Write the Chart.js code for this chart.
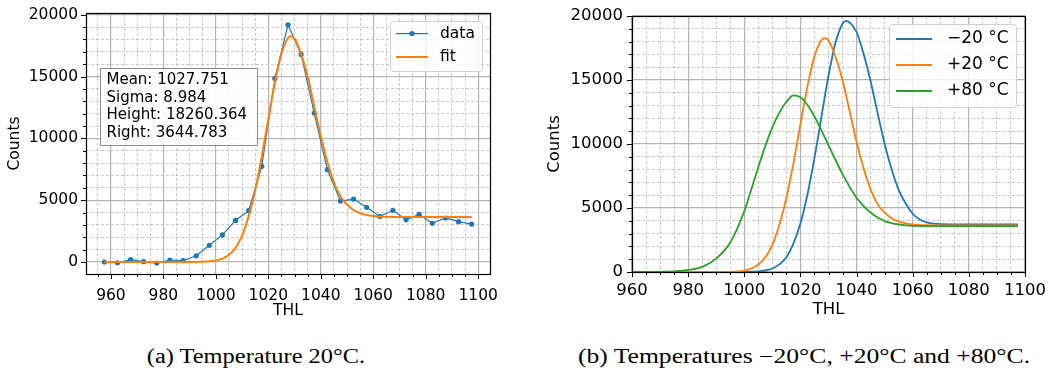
<!DOCTYPE html>
<html>
<head>
<meta charset="utf-8">
<script src="https://cdn.jsdelivr.net/npm/chart.js@4.4.1/dist/chart.umd.min.js"></script>
<style>
  body { margin: 0; background: #fff; width: 1051px; height: 371px; position: relative; overflow: hidden; }
  .panel { position: absolute; top: 0; }
  .panel canvas { display: block; }
  .caption {
    position: absolute; top: 346px; line-height: 20px;
    font-family: 'Liberation Serif', 'Times New Roman', serif; font-size: 20px;
    white-space: nowrap; color: #000;
  }
</style>
</head>
<body>
<div class="panel" style="left:0"><canvas id="fitChart" width="520" height="320"></canvas></div>
<div class="panel" style="left:530px"><canvas id="tempChart" width="521" height="320"></canvas></div>
<div class="caption" style="left:256px; transform: translateX(-50%) scaleX(1.22)">(a) Temperature 20°C.</div>
<div class="caption" style="left:804px; transform: translateX(-50%) scaleX(1.28)">(b) Temperatures −20°C, +20°C and +80°C.</div>

<script>
// measured points at 20 °C (THL, counts)
const thlData = [957.5, 962.5, 967.5, 972.5, 977.5, 982.5, 987.5, 992.5, 997.5, 1002.5,
    1007.5, 1012.5, 1017.5, 1022.5, 1027.5, 1032.5, 1037.5, 1042.5, 1047.5, 1052.5,
    1057.5, 1062.5, 1067.5, 1072.5, 1077.5, 1082.5, 1087.5, 1092.5, 1097.5];
const countsData = [0, -60, 190, 30, -90, 160, 110, 500, 1350, 2190,
    3360, 4150, 7740, 14850, 19190, 16790, 12050, 7470, 4930, 5090,
    4420, 3690, 4180, 3420, 3850, 3130, 3560, 3260, 3070];

// fitted curves on a common THL grid
const thlFine = [957.5, 965, 970, 975, 980, 985, 990, 995, 1000, 1002.5,
    1005, 1007.5, 1010, 1012.5, 1015, 1017.5, 1020, 1022.5, 1025, 1027.5,
    1028.75, 1030, 1032.5, 1035, 1036.25, 1037.5, 1040, 1042.5, 1045, 1047.5,
    1050, 1052.5, 1055, 1057.5, 1060, 1062.5, 1065, 1067.5, 1070, 1080,
    1090, 1097.5];
const fitCounts = [0, 0, 0, 0, 0, 0, 2, 17, 115, 270,
    580, 1150, 2140, 3700, 5800, 8510, 11550, 14500, 16850, 18120,
    18260, 18080, 16800, 14980, 13820, 12590, 10180, 8100, 6450, 5300,
    4650, 4200, 3950, 3800, 3720, 3670, 3655, 3648, 3645, 3645,
    3645, 3645];
const countsMinus20 = [0, 0, 0, 0, 0, 0, 0, 0, 6, 20,
    46, 117, 275, 594, 1150, 2210, 3800, 6050, 8910, 12150,
    13790, 15340, 17930, 19400, 19620, 19500, 18750, 17050, 14900, 12400,
    10000, 8000, 6420, 5350, 4550, 4100, 3880, 3780, 3740, 3715,
    3710, 3710];
const countsPlus20 = fitCounts;
const countsPlus80 = [0, 5, 15, 50, 160, 400, 1050, 2300, 4750, 6450,
    8200, 9850, 11300, 12450, 13300, 13800, 13650, 13050, 12150, 11050,
    10480, 9900, 8750, 7650, 7150, 6650, 5800, 5150, 4650, 4250,
    3980, 3810, 3710, 3650, 3610, 3595, 3585, 3580, 3580, 3580,
    3580, 3580];

const fitStats = ['Mean: 1027.751', 'Sigma: 8.984', 'Height: 18260.364', 'Right: 3644.783'];
const tempLabels = ['\u221220 \u00b0C', '+20 \u00b0C', '+80 \u00b0C'];

// tick values (labels only on the major ones)
const thlMajor = [960, 980, 1000, 1020, 1040, 1060, 1080, 1100];
const countsMajor = [0, 5000, 10000, 15000, 20000];

const FONT = 'DejaVu Sans';
const MAJOR_GRID = '#b4b4b4';
const MINOR_GRID = '#bcbcbc';
const C_BLUE = '#1f77b4', C_ORANGE = '#ff7f0e', C_GREEN = '#2ca02c';

function minorTicks(from, to, step) {
    const out = [];
    for (let v = from; v <= to + 1e-9; v += step) out.push(v);
    return out;
}

function isMajor(value, majors) {
    return majors.some(m => Math.abs(m - value) < 1e-6);
}

function points(xs, ys) {
    return xs.map((x, i) => ({ x: x, y: ys[i] }));
}

// frame round the plot and outward tick marks, long for major, short for minor
const frameAndTicks = {
    id: 'frameAndTicks',
    afterDatasetsDraw(chart) {
        const ctx = chart.ctx;
        const a = chart.chartArea;
        const xs = chart.scales.x, ys = chart.scales.y;
        ctx.save();
        ctx.strokeStyle = '#000';
        ctx.lineWidth = 1;
        xs.ticks.forEach(t => {
            const px = Math.round(xs.getPixelForValue(t.value)) + 0.5;
            const len = isMajor(t.value, thlMajor) ? 5 : 3;
            ctx.beginPath();
            ctx.moveTo(px, Math.round(a.bottom));
            ctx.lineTo(px, Math.round(a.bottom) + len);
            ctx.stroke();
        });
        ys.ticks.forEach(t => {
            const py = Math.round(ys.getPixelForValue(t.value)) + 0.5;
            const len = isMajor(t.value, countsMajor) ? 5 : 3;
            ctx.beginPath();
            ctx.moveTo(Math.round(a.left), py);
            ctx.lineTo(Math.round(a.left) - len, py);
            ctx.stroke();
        });
        ctx.lineWidth = 1.2;
        ctx.strokeRect(Math.round(a.left) + 0.5, Math.round(a.top) + 0.5,
            Math.round(a.right) - Math.round(a.left), Math.round(a.bottom) - Math.round(a.top));
        ctx.restore();
    }
};

// matplotlib style legend in the upper right corner of the axes
const boxLegend = {
    id: 'boxLegend',
    afterDraw(chart, args, o) {
        const ctx = chart.ctx;
        const a = chart.chartArea;
        const x = a.right - o.padRight - o.width;
        const y = a.top + o.padTop;
        ctx.save();
        ctx.fillStyle = 'rgba(255,255,255,0.8)';
        ctx.strokeStyle = '#d0d0d0';
        ctx.lineWidth = 1;
        ctx.beginPath();
        ctx.roundRect(x + 0.5, y + 0.5, o.width, o.height, 3);
        ctx.fill();
        ctx.stroke();
        chart.data.datasets.forEach((ds, i) => {
            const cy = y + o.first + i * o.step;
            ctx.strokeStyle = ds.borderColor;
            ctx.lineWidth = ds.borderWidth;
            ctx.beginPath();
            ctx.moveTo(x + o.lineX, cy);
            ctx.lineTo(x + o.lineX + o.lineLen, cy);
            ctx.stroke();
            if (ds.pointRadius > 0) {
                ctx.fillStyle = ds.borderColor;
                ctx.beginPath();
                ctx.arc(x + o.lineX + o.lineLen / 2, cy, ds.pointRadius, 0, Math.PI * 2);
                ctx.fill();
            }
            ctx.fillStyle = '#000';
            ctx.font = o.fontSize + 'px "' + FONT + '"';
            ctx.textBaseline = 'middle';
            ctx.fillText(ds.label, x + o.textX, cy);
        });
        ctx.restore();
    }
};

// text box with the fit parameters
const statsBox = {
    id: 'statsBox',
    afterDraw(chart, args, o) {
        const ctx = chart.ctx;
        const a = chart.chartArea;
        const x = Math.round(a.left + o.dx) + 0.5;
        const y = Math.round(a.top + o.dy) + 0.5;
        ctx.save();
        ctx.fillStyle = 'rgba(255,255,255,0.9)';
        ctx.strokeStyle = '#8c8c8c';
        ctx.lineWidth = 1;
        ctx.fillRect(x, y, o.width, o.height);
        ctx.strokeRect(x, y, o.width, o.height);
        ctx.fillStyle = '#000';
        ctx.font = o.fontSize + 'px "' + FONT + '"';
        ctx.textBaseline = 'middle';
        o.lines.forEach((line, i) => ctx.fillText(line, x + o.textX, y + o.first + i * o.step));
        ctx.restore();
    }
};

function buildScales(cfg) {
    const tickFont = { family: FONT, size: cfg.fontSize };
    return {
        x: {
            type: 'linear', min: cfg.xMin, max: cfg.xMax,
            afterBuildTicks: s => { s.ticks = cfg.xTicks.map(v => ({ value: v })); },
            afterFit: s => { s.height = cfg.xHeight; s.paddingLeft = 0; s.paddingRight = 0; },
            ticks: {
                autoSkip: false, maxRotation: 0, padding: cfg.xPad, color: '#000', font: tickFont,
                callback: v => isMajor(v, thlMajor) ? String(v) : ''
            },
            grid: {
                drawTicks: false,
                color: c => c.tick && isMajor(c.tick.value, thlMajor) ? MAJOR_GRID : MINOR_GRID,
                lineWidth: c => c.tick && isMajor(c.tick.value, thlMajor) ? 1.2 : 0.8
            },
            border: {
                display: false,
                dash: c => c.tick && !isMajor(c.tick.value, thlMajor) ? [3, 2] : []
            },
            title: {
                display: true, text: 'THL', color: '#000', font: tickFont,
                padding: { top: 0, bottom: cfg.xTitlePad }
            }
        },
        y: {
            type: 'linear', min: cfg.yMin, max: cfg.yMax,
            afterBuildTicks: s => { s.ticks = cfg.yTicks.map(v => ({ value: v })); },
            afterFit: s => { s.width = cfg.yWidth; s.paddingTop = 0; s.paddingBottom = 0; },
            ticks: {
                autoSkip: false, padding: cfg.yPad, color: '#000', font: tickFont,
                callback: v => isMajor(v, countsMajor) ? String(v) : ''
            },
            grid: {
                drawTicks: false,
                color: c => c.tick && isMajor(c.tick.value, countsMajor) ? MAJOR_GRID : MINOR_GRID,
                lineWidth: c => c.tick && isMajor(c.tick.value, countsMajor) ? 1.2 : 0.8
            },
            border: {
                display: false,
                dash: c => c.tick && !isMajor(c.tick.value, countsMajor) ? [3, 2] : []
            },
            title: {
                display: true, text: 'Counts', color: '#000', font: tickFont,
                padding: { top: cfg.yTitlePad, bottom: 0 }
            }
        }
    };
}

function renderFitChart() {
    const ctx = document.getElementById('fitChart').getContext('2d');
    return new Chart(ctx, {
        type: 'line',
        data: {
            datasets: [{
                label: 'data',
                data: points(thlData, countsData),
                borderColor: C_BLUE,
                backgroundColor: C_BLUE,
                borderWidth: 1.2,
                pointRadius: 2.6,
                pointBorderWidth: 0,
                order: 1
            }, {
                label: 'fit',
                data: points(thlFine, fitCounts),
                borderColor: C_ORANGE,
                borderWidth: 2,
                pointRadius: 0,
                cubicInterpolationMode: 'monotone',
                order: 0
            }]
        },
        options: {
            responsive: false,
            animation: false,
            events: [],
            layout: { autoPadding: false, padding: { left: 0, right: 30, top: 13, bottom: 0 } },
            plugins: {
                legend: { display: false },
                tooltip: { enabled: false },
                boxLegend: { width: 92, height: 50, padRight: 8, padTop: 8, first: 12.6, step: 23.4,
                    lineX: 6, lineLen: 32, textX: 50, fontSize: 15.5 },
                statsBox: { lines: fitStats, dx: 14, dy: 55, width: 157, height: 77,
                    textX: 6, first: 11.7, step: 17.5, fontSize: 15 }
            },
            scales: buildScales({
                xMin: 950.5, xMax: 1104.5, yMin: -970, yMax: 20140,
                xTicks: minorTicks(955, 1100, 5), yTicks: minorTicks(0, 20000, 1000),
                xHeight: 46, yWidth: 86, xPad: 13, yPad: 8, xTitlePad: 0, yTitlePad: 6, fontSize: 15.5
            })
        },
        plugins: [frameAndTicks, boxLegend, statsBox]
    });
}

function renderTempChart() {
    const ctx = document.getElementById('tempChart').getContext('2d');
    const series = [countsMinus20, countsPlus20, countsPlus80];
    const colors = [C_BLUE, C_ORANGE, C_GREEN];
    return new Chart(ctx, {
        type: 'line',
        data: {
            datasets: series.map((ys, i) => ({
                label: tempLabels[i],
                data: points(thlFine, ys),
                borderColor: colors[i],
                borderWidth: 1.8,
                pointRadius: 0,
                cubicInterpolationMode: 'monotone',
                order: 2 - i // later curves on top, as in the original
            }))
        },
        options: {
            responsive: false,
            animation: false,
            events: [],
            layout: { autoPadding: false, padding: { left: 0, right: 26, top: 16, bottom: 0 } },
            plugins: {
                legend: { display: false },
                tooltip: { enabled: false },
                boxLegend: { width: 127, height: 83, padRight: 9, padTop: 8, first: 15, step: 26,
                    lineX: 7, lineLen: 36, textX: 58, fontSize: 17 }
            },
            scales: buildScales({
                xMin: 960, xMax: 1100, yMin: 0, yMax: 20000,
                xTicks: minorTicks(960, 1100, 5), yTicks: minorTicks(0, 20000, 1000),
                xHeight: 48, yWidth: 102, xPad: 9, yPad: 9, xTitlePad: 0, yTitlePad: 15, fontSize: 16.5
            })
        },
        plugins: [frameAndTicks, boxLegend]
    });
}

document.addEventListener('DOMContentLoaded', () => {
    renderFitChart();
    renderTempChart();
});
</script>
</body>
</html>
